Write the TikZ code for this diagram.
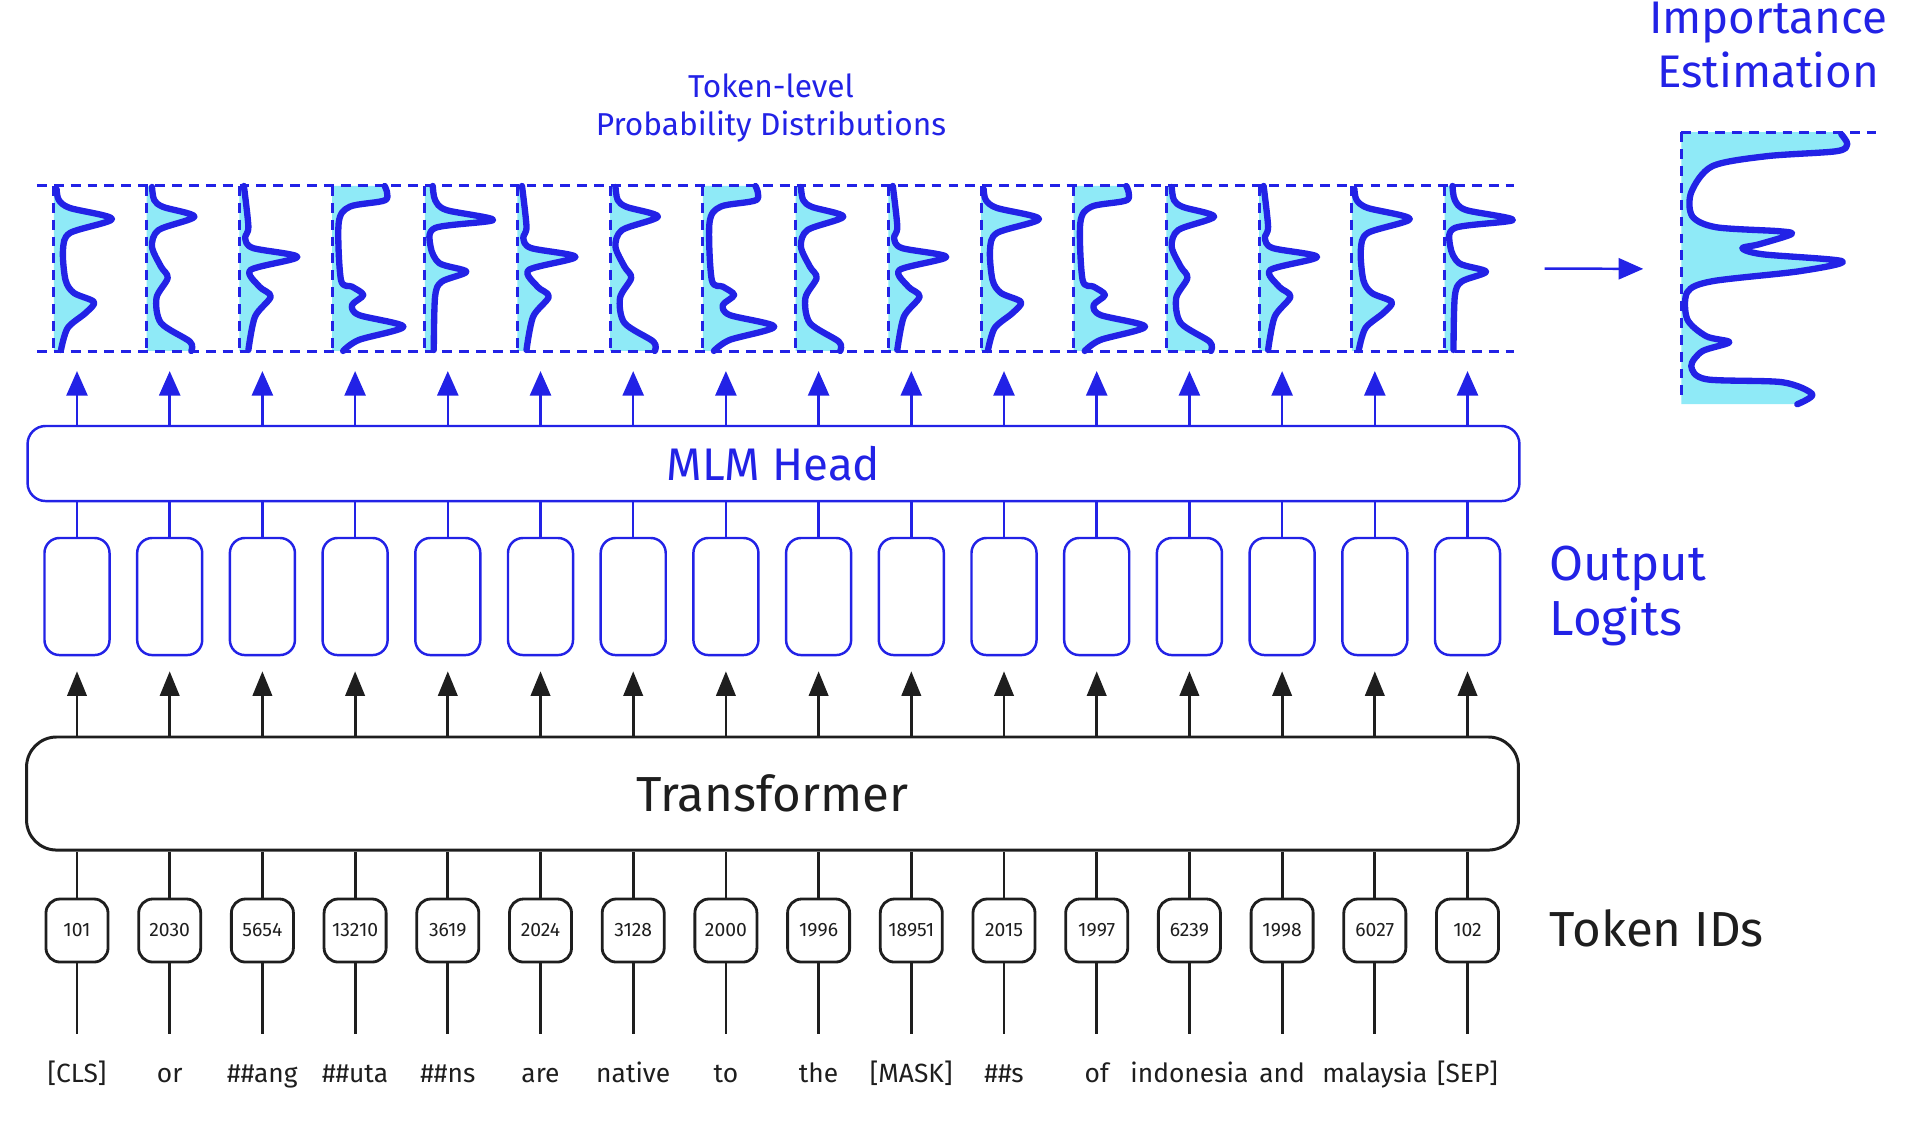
\documentclass[tikz,border=0pt]{standalone}
\usepackage{fontspec}
\setmainfont{Fira Sans}
\usetikzlibrary{arrows.meta,positioning}
\definecolor{skblue}{HTML}{2222E6}
\definecolor{skcyan}{HTML}{8FEAF7}
\definecolor{skblack}{HTML}{1E1E1E}

\begin{document}
\begin{tikzpicture}[
  x=0.01cm, y=-0.01cm,
  distfill/.style={fill=skcyan},
  distcurve/.style={draw=skblue, line width=1.8pt, line cap=round, line join=round},
  distdash/.style={draw=skblue, line width=0.85pt, dash pattern=on 2.8pt off 2pt},
  panel/.style={minimum width=0.46cm, minimum height=1.65cm, inner sep=0pt, outer sep=0pt},
  logit/.style={
    rectangle,
    rounded corners=0.15cm,
    draw=skblue,
    line width=0.7pt,
    minimum width=0.65cm,
    minimum height=1.17cm,
    inner sep=0pt
  },
  idbox/.style={
    rectangle,
    rounded corners=0.14cm,
    draw=skblack,
    line width=0.8pt,
    minimum width=0.62cm,
    minimum height=0.63cm,
    inner sep=0pt,
    font=\fontsize{5.5}{6}\selectfont
  },
  tok/.style={font=\fontsize{7.5}{9}\selectfont, text height=1.5ex, text depth=0.4ex, inner sep=0pt},
  lbl/.style={font=\fontsize{14}{15.6}\selectfont, align=left, inner sep=0pt},
  bline/.style={draw=skblue, line width=0.7pt},
  kline/.style={draw=skblack, line width=0.8pt},
  barrow/.style={bline, -{Triangle[length=7pt,width=6pt]}},
  karrow/.style={kline, -{Triangle[length=7pt,width=5.5pt]}},
  distA/.pic={
    \fill[distfill] (0,0) -- plot[smooth] coordinates {(2.6,3) (4.8,14) (16,22) (58,33) (16,47) (9,64) (11.5,94) (20,107) (40,116) (31.6,127) (13.7,142) (7,164)} -- (7,165) -- (0,165) -- cycle;
    \draw[distdash] (0,0) -- (0,165);
    \draw[distcurve] plot[smooth] coordinates {(2.6,3) (4.8,14) (16,22) (58,33) (16,47) (9,64) (11.5,94) (20,107) (40,116) (31.6,127) (13.7,142) (7,164)};
  },
  distB/.pic={
    \fill[distfill] (0,0) -- plot[smooth] coordinates {(5.3,1) (7.5,14) (16.5,21) (47.7,30.7) (12,44) (5.3,60.7) (14.3,80.7) (21,92) (9.8,112) (14.3,137) (43.3,155.7) (44.6,165)} -- (0,165) -- cycle;
    \draw[distdash] (0,0) -- (0,165);
    \draw[distcurve] plot[smooth] coordinates {(5.3,1) (7.5,14) (16.5,21) (47.7,30.7) (12,44) (5.3,60.7) (14.3,80.7) (21,92) (9.8,112) (14.3,137) (43.3,155.7) (44.6,165)};
  },
  distC/.pic={
    \fill[distfill] (0,0) -- plot[smooth] coordinates {(4.5,0) (9,40.7) (5.8,52) (13.4,62) (58,71) (11.2,84) (20,100.7) (31.3,110.7) (15.6,130.7) (9,164)} -- (9,165) -- (0,165) -- cycle;
    \draw[distdash] (0,0) -- (0,165);
    \draw[distcurve] plot[smooth] coordinates {(4.5,0) (9,40.7) (5.8,52) (13.4,62) (58,71) (11.2,84) (20,100.7) (31.3,110.7) (15.6,130.7) (9,164)};
  },
  distD/.pic={
    \fill[distfill] (0,0) -- plot[smooth] coordinates {(52.6,0) (53.5,14) (17.8,20.7) (6.6,37) (8.9,94) (20,100.7) (31.2,109) (20,119) (26.7,129) (71.4,140.7) (26.7,154) (11,165)} -- (0,165) -- cycle;
    \draw[distdash] (0,0) -- (0,165);
    \draw[distcurve] plot[smooth] coordinates {(52.6,0) (53.5,14) (17.8,20.7) (6.6,37) (8.9,94) (20,100.7) (31.2,109) (20,119) (26.7,129) (71.4,140.7) (26.7,154) (11,165)};
  },
  distE/.pic={
    \fill[distfill] (0,0) -- plot[smooth] coordinates {(8,0) (10.3,14) (21.4,24) (68.3,34) (10.3,42) (5.8,60.7) (14.7,77.3) (41.5,85.7) (17,95.7) (10.3,110.7) (9,164)} -- (9,165) -- (0,165) -- cycle;
    \draw[distdash] (0,0) -- (0,165);
    \draw[distcurve] plot[smooth] coordinates {(8,0) (10.3,14) (21.4,24) (68.3,34) (10.3,42) (5.8,60.7) (14.7,77.3) (41.5,85.7) (17,95.7) (10.3,110.7) (9,164)};
  }
]

\useasboundingbox (0,0) rectangle (1910,1138);

% --- big blocks ---
\node[draw=skblue, line width=0.7pt, rounded corners=0.18cm, minimum width=14.91cm, minimum height=0.75cm,
  text=skblue, font=\fontsize{13}{15}\selectfont] (mlm) at (773.5,463.5) {MLM Head};
\node[draw=skblack, line width=0.85pt, rounded corners=0.3cm, minimum width=14.91cm, minimum height=1.13cm,
  text=skblack, font=\fontsize{14}{16}\selectfont] (trans) at (772.5,793.5) {Transformer};

% --- one column per token ---
\foreach \i/\tid/\tw/\ty in {0/101/[CLS]/A, 1/2030/or/B, 2/5654/\#\#ang/C, 3/13210/\#\#uta/D,
    4/3619/\#\#ns/E, 5/2024/are/C, 6/3128/native/B, 7/2000/to/D, 8/1996/the/B,
    9/18951/[MASK]/C, 10/2015/\#\#s/A, 11/1997/of/D, 12/6239/indonesia/B,
    13/1998/and/C, 14/6027/malaysia/A, 15/102/[SEP]/E} {
  \pgfmathsetmacro{\x}{77+92.7*\i}
  \node[tok, text=skblack] (tok\i) at (\x,1072) {\tw};
  \node[idbox, text=skblack] (id\i) at (\x,930.5) {\tid};
  \node[logit] (lg\i) at (\x,596.5) {};
  \node[panel] (pd\i) at (\x,268.5) {};
  \pic at (pd\i.north west) {dist\ty};
  \draw[kline, shorten >=0.2cm] (id\i.south) -- (tok\i.north);
  \draw[kline] (id\i.north) -- (trans.south -| id\i);
  \draw[karrow, shorten >=0.15cm] (trans.north -| lg\i) -- (lg\i.south);
  \draw[bline] (lg\i.north) -- (mlm.south -| lg\i);
  \draw[barrow, shorten >=0.2cm] (mlm.north -| pd\i) -- (pd\i.south);
}

% --- dashed frame of the distributions ---
\draw[distdash] ([xshift=-0.17cm]pd0.north west) -- ([xshift=0.23cm]pd15.north east);
\draw[distdash] ([xshift=-0.17cm]pd0.south west) -- ([xshift=0.23cm]pd15.south east);

% --- importance estimation ---
\node[minimum width=1.95cm, minimum height=2.72cm, inner sep=0pt] (imp) at (1779.5,269) {};
\begin{scope}[shift={(imp.north west)}]
  \fill[distfill] (0,0) -- (160,0) -- plot[smooth] coordinates {(160,2) (166,12) (155,19) (85,24) (31,34) (10,60) (11,84) (35,95) (98,99) (110,102) (78,112) (61,116) (81,122) (161,129) (118,139) (31,149) (6,160) (6,187) (25,204) (48,210) (21,219) (10,234) (25,247) (101,250) (131,262) (116,272)} -- (0,272) -- cycle;
  \draw[distdash] (0,0) -- (0,265);
  \draw[distdash] (0,0) -- (195,0);
  \draw[distcurve] plot[smooth] coordinates {(160,2) (166,12) (155,19) (85,24) (31,34) (10,60) (11,84) (35,95) (98,99) (110,102) (78,112) (61,116) (81,122) (161,129) (118,139) (31,149) (6,160) (6,187) (25,204) (48,210) (21,219) (10,234) (25,247) (101,250) (131,262) (116,272)};
\end{scope}
\draw[barrow, shorten >=0.38cm] ([xshift=0.54cm]pd15.east) -- (imp.west);

% --- labels ---
\node[text=skblue, font=\fontsize{9}{11}\selectfont, align=center] (ttl) at (771,108) {Token-level\\Probability Distributions};
\node[text=skblue, font=\fontsize{13}{15.6}\selectfont, align=center] (impttl) at (1768,45) {Importance\\Estimation};
\node[lbl, text=skblue, anchor=west] (outlbl) at (1549,596) {Output\\Logits};
\node[lbl, text=skblack, anchor=west] (idlbl) at (1549,928) {Token IDs};

\end{tikzpicture}
\end{document}
